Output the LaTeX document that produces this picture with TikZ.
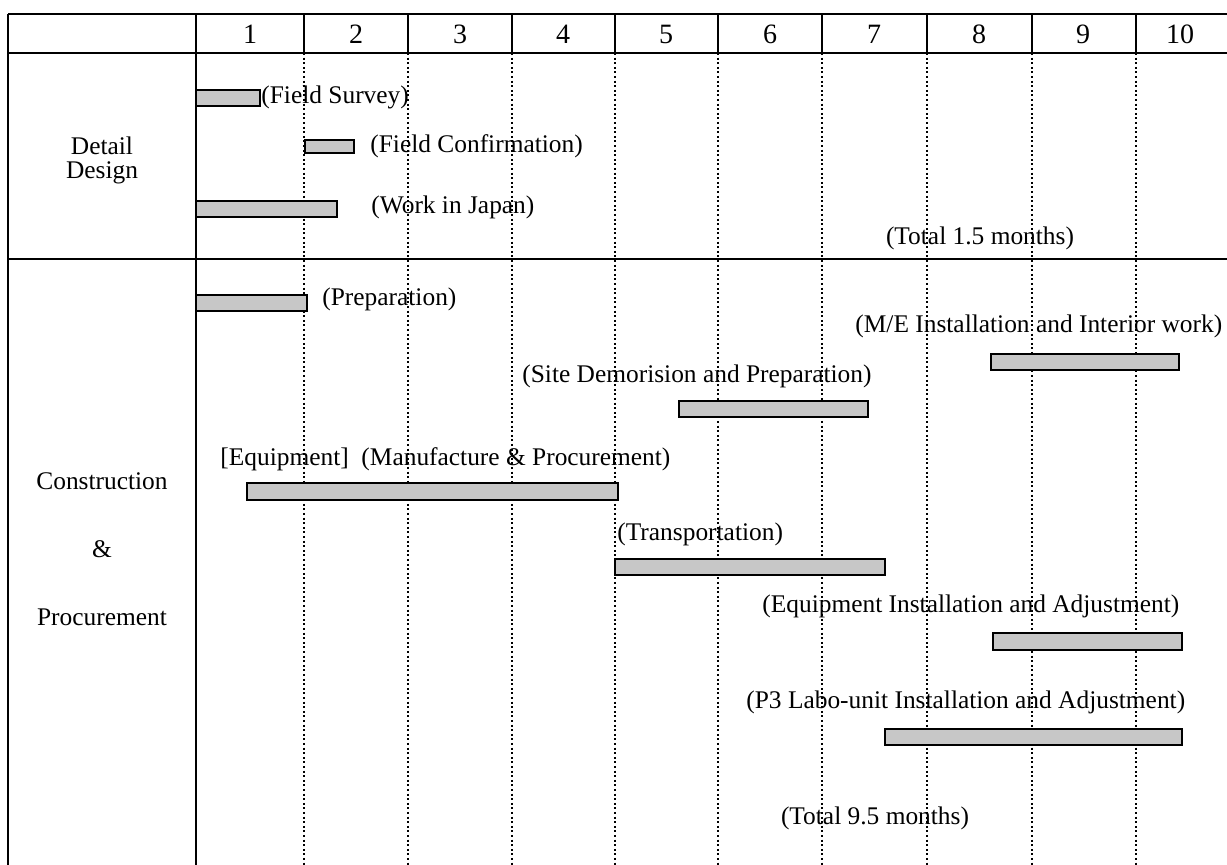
\documentclass[tikz,border=0pt]{standalone}
\usepackage{fontspec}
\setmainfont{Liberation Serif}
\usepackage{tikz}
\tikzset{
	tableline/.style={line width=1pt},
	monthline/.style={line width=1pt,dash pattern=on 1pt off 1.3pt},
	barstyle/.style={draw=black,line width=1.1pt,fill=black!22},
	tasklabel/.style={anchor=west,inner sep=0pt},
	headstyle/.style={inner sep=0pt,font=\fontsize{14}{16}\selectfont},
	rowstyle/.style={inner sep=0pt,align=center}
}
\begin{document}
\begin{tikzpicture}[x=0.5pt,y=-0.5pt]
	\fontsize{12.7}{12}\selectfont
	\useasboundingbox (0,0) rectangle (1227,865);
	\draw[tableline] (8,14)--(1227,14);
	\draw[tableline] (8,53)--(1227,53);
	\draw[tableline] (8,259)--(1227,259);
	\draw[tableline] (8,14)--(8,865);
	\draw[tableline] (196,14)--(196,865);
	\draw[tableline] (304,14)--(304,53);
	\draw[tableline] (408,14)--(408,53);
	\draw[tableline] (512,14)--(512,53);
	\draw[tableline] (615,14)--(615,53);
	\draw[tableline] (718,14)--(718,53);
	\draw[tableline] (822,14)--(822,53);
	\draw[tableline] (927,14)--(927,53);
	\draw[tableline] (1032,14)--(1032,53);
	\draw[tableline] (1136,14)--(1136,53);
	\draw[monthline] (304,53)--(304,865);
	\draw[monthline] (408,53)--(408,865);
	\draw[monthline] (512,53)--(512,865);
	\draw[monthline] (615,53)--(615,865);
	\draw[monthline] (718,53)--(718,865);
	\draw[monthline] (822,53)--(822,865);
	\draw[monthline] (927,53)--(927,865);
	\draw[monthline] (1032,53)--(1032,865);
	\draw[monthline] (1136,53)--(1136,865);
	\node[headstyle] (m1) at (250,34) {1};
	\node[headstyle] (m2) at (356,34) {2};
	\node[headstyle] (m3) at (460,34) {3};
	\node[headstyle] (m4) at (563,34) {4};
	\node[headstyle] (m5) at (666,34) {5};
	\node[headstyle] (m6) at (770,34) {6};
	\node[headstyle] (m7) at (874,34) {7};
	\node[headstyle] (m8) at (979,34) {8};
	\node[headstyle] (m9) at (1083,34) {9};
	\node[headstyle] (m10) at (1180,34) {10};
	\node[rowstyle] (design) at (102,160) {Detail\\Design};
	\node[rowstyle] (construction) at (102,549) {Construction\\[22pt]\&\\[22pt]Procurement};
	% detail design
	\draw[barstyle] (196,90) rectangle (260,106);
	\node[tasklabel] (survey) at (261,97) {(Field Survey)};
	\draw[barstyle] (305,140) rectangle (354,153);
	\node[tasklabel] (confirm) at (370,146) {(Field Confirmation)};
	\draw[barstyle] (196,201) rectangle (337,217);
	\node[tasklabel] (japan) at (371,207) {(Work in Japan)};
	\node[inner sep=0pt] (total1) at (980,238) {(Total 1.5 months)};
	% construction and procurement
	\draw[barstyle] (196,295) rectangle (307,311);
	\node[tasklabel] (prep) at (322,299) {(Preparation)};
	\node[tasklabel] (me) at (855,326) {(M/E Installation and Interior work)};
	\draw[barstyle] (991,354) rectangle (1179,370);
	\node[tasklabel] (site) at (522,376) {(Site Demorision and Preparation)};
	\draw[barstyle] (679,401) rectangle (868,417);
	\node[tasklabel] (manuf) at (220,459) {[Equipment]\ \ (Manufacture \& Procurement)};
	\draw[barstyle] (247,483) rectangle (618,500);
	\node[tasklabel] (trans) at (617,534) {(Transportation)};
	\draw[barstyle] (615,559) rectangle (885,575);
	\node[tasklabel] (eqinst) at (762,606) {(Equipment Installation and Adjustment)};
	\draw[barstyle] (993,633) rectangle (1182,650);
	\node[tasklabel] (labo) at (746,702) {(P3 Labo-unit Installation and Adjustment)};
	\draw[barstyle] (885,729) rectangle (1182,745);
	\node[inner sep=0pt] (total2) at (875,818) {(Total 9.5 months)};
\end{tikzpicture}
\end{document}
